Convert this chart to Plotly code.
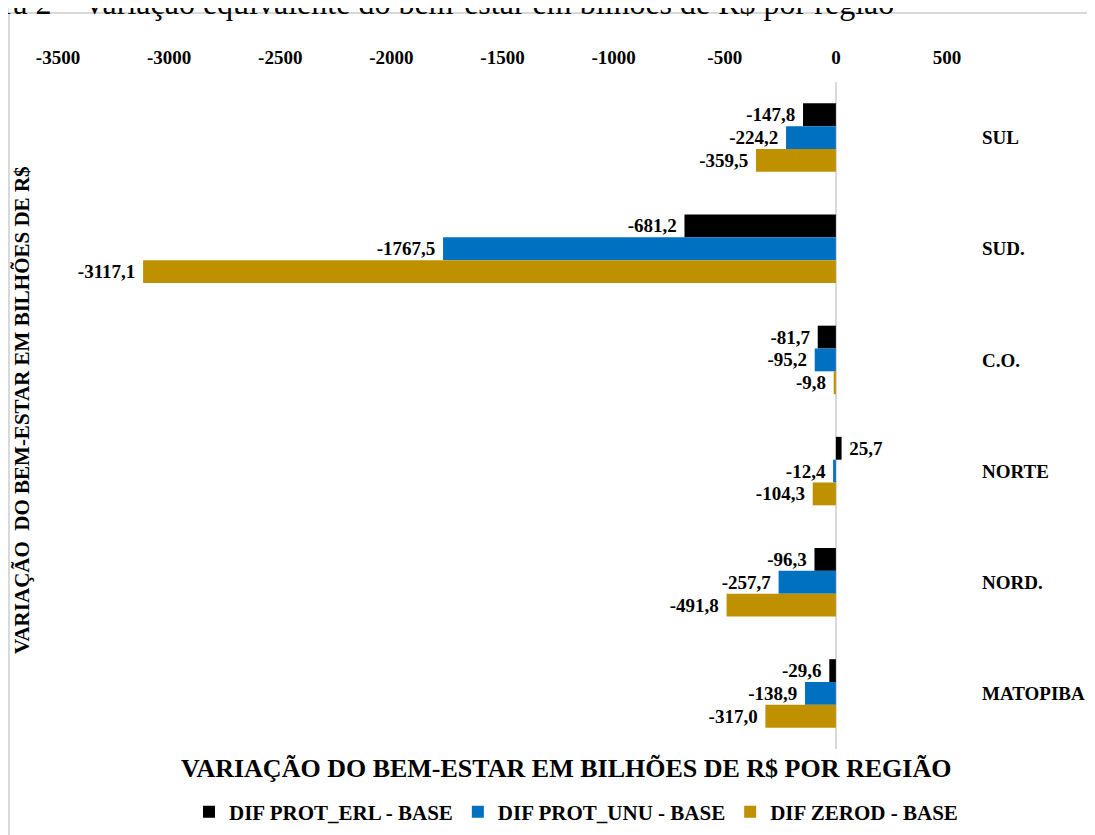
import plotly.graph_objects as go

regioes = ["SUL", "SUD.", "C.O.", "NORTE", "NORD.", "MATOPIBA"]
prot_erl = [-147.8, -681.2, -81.7, 25.7, -96.3, -29.6]
prot_unu = [-224.2, -1767.5, -95.2, -12.4, -257.7, -138.9]
zerod = [-359.5, -3117.1, -9.8, -104.3, -491.8, -317.0]

x_ticks = [-3500, -3000, -2500, -2000, -1500, -1000, -500, 0, 500]
x_tick_labels = ["-3500", "-3000", "-2500", "-2000", "-1500", "-1000", "-500", "0", "500"]

series = [
    ("DIF PROT_ERL - BASE", prot_erl, "#000000"),
    ("DIF PROT_UNU - BASE", prot_unu, "#0070C0"),
    ("DIF ZEROD - BASE", zerod, "#BF9000"),
]

fonte = "Liberation Serif"

# the page adds 8px of body margin, so positions are taken 8px up/left
W, H = 1095, 835
L, R, T, B = 50, 156, 74, 94
pw, ph = W - L - R, H - T - B


def px(x):  # page x -> paper
    return (x - 8 - L) / pw


def py(y):  # page y -> paper
    return (H - B - (y - 8)) / ph


def rotulo(v):
    s = f"{v:.1f}".replace(".", ",")
    # a little extra room between bar end and label, like Excel
    return s + "\u00a0" if v < 0 else "\u00a0" + s


fig = go.Figure()
for nome, vals, cor in series:
    fig.add_trace(go.Bar(
        y=regioes, x=vals, name=nome, orientation="h",
        marker=dict(color=cor, line=dict(width=0)),
        text=[rotulo(v) for v in vals], textposition="outside",
        textfont=dict(family=fonte, size=19, color="#000000", weight="bold"),
        constraintext="none", cliponaxis=False, hoverinfo="x+y+name",
    ))

fig.update_layout(
    width=W, height=H,
    margin=dict(l=L, r=R, t=T, b=B, autoexpand=False),
    paper_bgcolor="white", plot_bgcolor="white",
    barmode="group", bargap=0.384, bargroupgap=0,
    font=dict(family=fonte, color="#000000"),
    showlegend=True,
    legend=dict(orientation="h", x=px(576), xanchor="center", y=py(812), yanchor="middle",
                font=dict(family=fonte, size=21, weight="bold"),
                traceorder="normal"),
)

fig.update_xaxes(
    side="top", range=[-3500, 500], tickvals=x_ticks, ticktext=x_tick_labels,
    showgrid=False, zeroline=True, zerolinecolor="#d9d9d9", zerolinewidth=2,
    showline=False, ticks="", ticklabelstandoff=13,
    tickfont=dict(family=fonte, size=19, weight="bold"),
)
fig.update_yaxes(
    side="right", autorange="reversed", showgrid=False, showline=False, ticks="",
    ticklabelstandoff=34,
    tickfont=dict(family=fonte, size=19, weight="bold"),
)

fig.add_annotation(
    text="VARIAÇÃO DO BEM-ESTAR EM BILHÕES DE R$ POR REGIÃO",
    xref="paper", yref="paper", x=px(566), y=py(769), xanchor="center", yanchor="middle",
    showarrow=False, font=dict(family=fonte, size=26, weight="bold"),
)
fig.add_annotation(
    text="VARIAÇÃO  DO BEM-ESTAR EM BILHÕES DE R$",
    xref="paper", yref="paper", x=px(22), y=py(410), xanchor="center", yanchor="middle",
    textangle=-90, showarrow=False, font=dict(family=fonte, size=21, weight="bold"),
)
fig.add_annotation(
    text="Figura 2 – Variação equivalente do bem-estar em bilhões de R$ por região",
    xref="paper", yref="paper", x=px(-58), y=py(3), xanchor="left", yanchor="middle",
    showarrow=False, font=dict(family=fonte, size=32),
)

fig.add_shape(
    type="rect", xref="paper", yref="paper",
    x0=px(9), x1=1.4, y0=-0.3, y1=py(13),
    line=dict(color="#d9d9d9", width=2), fillcolor="rgba(0,0,0,0)", layer="below",
)

fig.write_html("out.html")
